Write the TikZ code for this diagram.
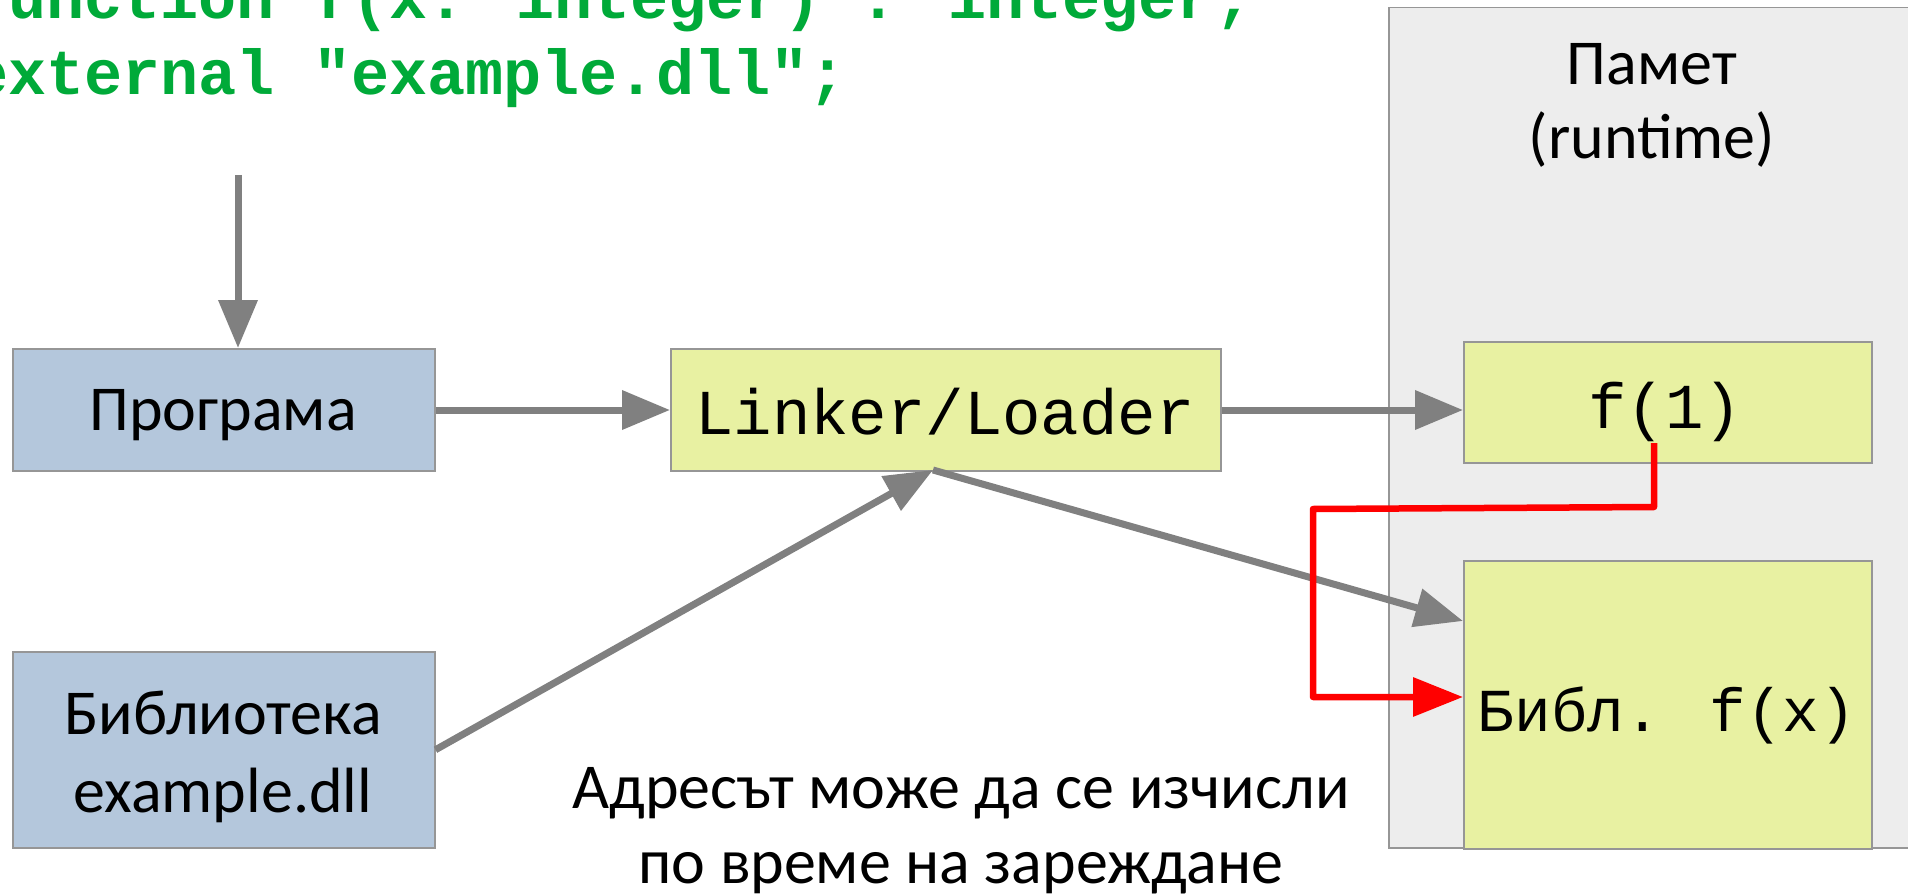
\documentclass[tikz,border=0pt]{standalone}
\usepackage{fontspec}
\setmainfont{Carlito}
\newfontfamily\codefont{Liberation Mono}
\usetikzlibrary{arrows.meta,calc}

\definecolor{boxblue}{RGB}{180,199,220}
\definecolor{boxyellow}{RGB}{232,241,162}
\definecolor{memgrey}{RGB}{237,237,237}
\definecolor{edgegrey}{RGB}{150,150,150}
\definecolor{arrowgrey}{RGB}{128,128,128}
\definecolor{codegreen}{RGB}{0,170,57}
\definecolor{callred}{RGB}{255,0,0}

\begin{document}
\begin{tikzpicture}[x=1pt,y=-1pt,
  box/.style={draw=edgegrey, line width=1.5pt, inner sep=0pt, anchor=north west},
  sanstext/.style={font=\fontsize{64}{74}\selectfont, align=center},
  monotext/.style={font=\codefont\fontsize{64}{72}\selectfont},
  codetext/.style={font=\codefont\bfseries\fontsize{63.5}{76}\selectfont, text=codegreen, anchor=base west, inner sep=0pt},
  conn/.style={draw=arrowgrey, line width=7pt, -{Triangle[length=48pt,width=38pt]}},
  callpath/.style={draw=callred, line width=6.5pt, line join=round, -{Triangle[length=50pt,width=38pt]}}
]
\useasboundingbox (0,0) rectangle (1908,896);

% memory area (runs past the right edge)
\node[box, fill=memgrey, minimum width=560pt, minimum height=840pt] (mem) at (1388,7) {};
\node[sanstext] (memtitle) at (1652,105) {Памет\\(runtime)};

% boxes
\node[box, fill=boxblue, minimum width=422pt, minimum height=122pt] (prog) at (12,348) {};
\node[sanstext] (progtext) at (223,415) {Програма};
\node[box, fill=boxblue, minimum width=422pt, minimum height=196pt] (lib) at (12,651) {};
\node[sanstext, font=\fontsize{64}{78}\selectfont] (libtext) at (223,757) {Библиотека\\example.dll};
\node[box, fill=boxyellow, minimum width=550pt, minimum height=122pt] (linker) at (670,348) {};
\node[monotext, anchor=base] (linkertext) at (945,434) {Linker/Loader};
\node[box, fill=boxyellow, minimum width=408pt, minimum height=121pt] (call) at (1463,341) {};
\node[monotext, anchor=base] (calltext) at (1665,428) {f(1)};
\node[box, fill=boxyellow, minimum width=408pt, minimum height=288pt] (bib) at (1463,560) {};
\node[monotext, font=\codefont\fontsize{61}{70}\selectfont, anchor=base] (bibtext) at (1667,731) {Библ. f(x)};

% source declaration
\node[codetext] (code1) at (-30,19) {function f(x: integer) : integer;};
\node[codetext] (code2) at (-30,95) {external "example.dll";};

% note
\node[sanstext, font=\fontsize{64}{75}\selectfont] (note) at (961,831) {Адресът може да се изчисли\\по време на зареждане};

% connectors
\coordinate (src) at (238,175);
\coordinate (lk) at (933,470);
\coordinate (bibin) at (1463,621);
\draw[conn] (src) -- (src |- prog.north);
\draw[conn] (prog.east |- 0,410) -- (linker.west |- 0,410);
\draw[conn] (linker.east |- 0,410) -- (call.west |- 0,410);
\draw[conn] (lib.east) -- (lk);
\draw[conn] (lk) -- (bibin);

% call resolution
\coordinate (cstart) at (1654,443);
\draw[callpath] (cstart) -- (1654,507) -- (1313,509) -- (1313,697) -- (bib.west |- 0,697);
\end{tikzpicture}
\end{document}
